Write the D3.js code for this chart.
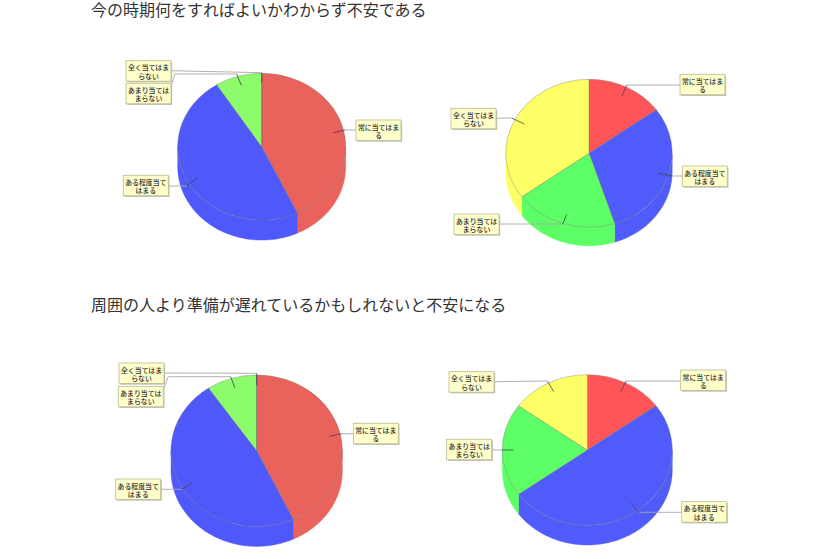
<!DOCTYPE html>
<html lang="ja">
<head>
<meta charset="utf-8">
<style>
  html, body { margin: 0; padding: 0; background: #fff; }
  svg { display: block; }
  text { font-family: "Noto Sans CJK JP", sans-serif; }
  .title { font-size: 16px; fill: #333; }
  .tag { font-size: 6.9px; font-weight: 500; fill: #2e2e2e; text-anchor: middle; }
</style>
<script src="https://cdn.jsdelivr.net/npm/d3@7/dist/d3.min.js"></script>
</head>
<body>
<svg id="chart" width="840" height="559"></svg>
<script>
const titles = [
  '今の時期何をすればよいかわからず不安である',
  '周囲の人より準備が遅れているかもしれないと不安になる',
];

const categories = ['常に当てはまる', 'ある程度当てはまる', 'あまり当てはまらない', '全く当てはまらない'];

// two lines each, as wrapped in the tags
const tagLines = [
  ['常に当てはま', 'る'],
  ['ある程度当て', 'はまる'],
  ['あまり当ては', 'まらない'],
  ['全く当てはま', 'らない'],
];

const topLeftValues = [43, 48, 9, 0];
const topRightValues = [15, 30, 20, 35];
const bottomLeftValues = [43, 47.5, 9.5, 0];
const bottomRightValues = [15, 50, 20, 15];

const mutedColors = ['#ea625c', '#4f58fa', '#8cfb6c', '#ffff66'];
const brightColors = ['#ff5558', '#4f5cfb', '#5cff66', '#ffff66'];

// cx, cy, rx, ry, depth of each pie, tag box corners and leader elbows
const charts = [
  {
    values: topLeftValues, colors: mutedColors, cx: 261.7, cy: 146.7, rx: 84, ry: 73.4, depth: 20,
    boxes: [[356, 120], [123.3, 175.3], [126, 83.3], [126, 60.7]],
    elbows: [
      [[345, 130]],
      [[187, 186]],
      [[236.7, 74], [175, 74]],
      [[261.7, 72.7]],
    ],
  },
  {
    values: topRightValues, colors: brightColors, cx: 589, cy: 153.3, rx: 83.2, ry: 74, depth: 18.5,
    boxes: [[680, 74.3], [682.3, 166], [454, 214], [451, 108.3]],
    elbows: [
      [[626.7, 85]],
      [[671.7, 176]],
      [[562.7, 224]],
      [[511.7, 118]],
    ],
  },
  {
    values: bottomLeftValues, colors: mutedColors, cx: 256.7, cy: 450.7, rx: 85.7, ry: 75.7, depth: 20,
    boxes: [[353.3, 423.3], [115.7, 479], [118.3, 386.3], [119, 363]],
    elbows: [
      [[341.7, 433.7]],
      [[181.7, 489.3]],
      [[230.7, 376.7], [168.3, 376.7]],
      [[256.7, 373.3]],
    ],
  },
  {
    values: bottomRightValues, colors: brightColors, cx: 587.3, cy: 450, rx: 85, ry: 75.3, depth: 19.7,
    boxes: [[680.7, 370], [681.7, 501.7], [446.7, 439.3], [449, 371.7]],
    elbows: [
      [[626, 381]],
      [[639, 512.3]],
      [[502, 450]],
      [[547.3, 381]],
    ],
  },
];

const boxW = 45;
const boxH = 20.5;
const anchorAt = 0.87; // leaders start this far out along the slice's middle

const svg = d3.select('#chart');

svg.selectAll('.title')
  .data(titles)
  .enter().append('text')
  .attr('class', 'title')
  .attr('x', 91)
  .attr('y', (d, i) => (i === 0 ? 16 : 311))
  .text(d => d);

const pie = d3.pie().sort(null);
const unitArc = d3.arc().innerRadius(0).outerRadius(1);

function drawPie(c) {
  const g = svg.append('g');
  const slices = pie(c.values);
  const px = a => c.cx + c.rx * Math.sin(a);
  const py = a => c.cy - c.ry * Math.cos(a);

  // side wall: only the part of a slice facing the viewer, pi/2 to 3pi/2
  const wall = d3.line().x(d => d[0]).y(d => d[1]);
  slices.forEach((s, i) => {
    const a0 = Math.max(s.startAngle, Math.PI / 2);
    const a1 = Math.min(s.endAngle, Math.PI * 1.5);
    if (a1 <= a0) return;
    const angles = d3.range(a0, a1, 0.02).concat(a1);
    const top = angles.map(a => [px(a), py(a)]);
    const low = angles.slice().reverse().map(a => [px(a), py(a) + c.depth]);
    g.append('path')
      .attr('d', wall(top.concat(low)) + 'Z')
      .attr('fill', c.colors[i])
      .attr('stroke', c.colors[i])
      .attr('stroke-width', 0.4);
  });

  // top face
  g.selectAll('.slice')
    .data(slices)
    .enter().append('path')
    .attr('class', 'slice')
    .attr('d', unitArc)
    .attr('transform', `translate(${c.cx},${c.cy}) scale(${c.rx},${c.ry})`)
    .attr('fill', (d, i) => c.colors[i])
    .attr('stroke', '#77776a')
    .attr('stroke-opacity', 0.55)
    .attr('stroke-width', 0.7)
    .attr('vector-effect', 'non-scaling-stroke');

  const line = d3.line();

  slices.forEach((s, i) => {
    const mid = (s.startAngle + s.endAngle) / 2;
    const anchor = [
      c.cx + c.rx * anchorAt * Math.sin(mid),
      c.cy - c.ry * anchorAt * Math.cos(mid),
    ];
    const [bx, by] = c.boxes[i];
    const elbows = c.elbows[i];
    const first = elbows[0];
    const onRight = bx > c.cx;
    const last = elbows[elbows.length - 1];
    // the top tag of a stacked pair is met at its own side, the lower at its upper half
    const end = [onRight ? bx : bx + boxW, i === 2 && elbows.length > 1 ? by + 3.5 : (i === 3 ? by + 10 : last[1])];

    g.append('path')
      .attr('d', line([first].concat(elbows.slice(1), [end])))
      .attr('fill', 'none')
      .attr('stroke', '#a8a8a8')
      .attr('stroke-width', 0.9);
    g.append('path')
      .attr('d', line([anchor, first]))
      .attr('fill', 'none')
      .attr('stroke', '#45454f')
      .attr('stroke-width', 0.8);
  });

  slices.forEach((s, i) => {
    const [bx, by] = c.boxes[i];
    const tag = g.append('g').attr('transform', `translate(${bx},${by})`);
    tag.append('rect')
      .attr('x', 1.2).attr('y', 1.2)
      .attr('width', boxW).attr('height', boxH)
      .attr('fill', '#c4c4bc');
    tag.append('rect')
      .attr('width', boxW).attr('height', boxH)
      .attr('fill', '#ffffcc')
      .attr('stroke', '#bdb98c')
      .attr('stroke-width', 0.8);
    tag.selectAll('text')
      .data(tagLines[i])
      .enter().append('text')
      .attr('class', 'tag')
      .attr('x', boxW / 2)
      .attr('y', (d, j) => 9.6 + j * 8.4)
      .text(d => d);
  });
}

charts.forEach(drawPie);
</script>
</body>
</html>
